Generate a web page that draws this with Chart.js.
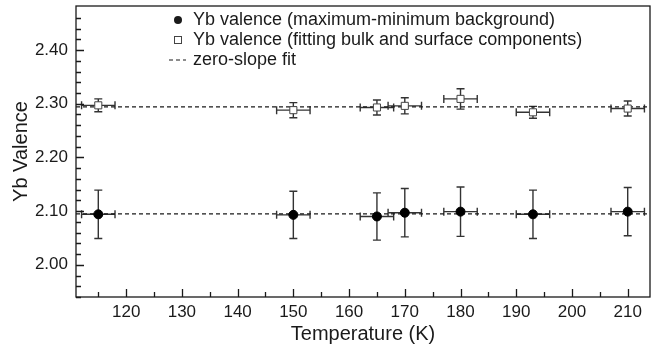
<!DOCTYPE html>
<html>
<head>
<meta charset="utf-8">
<script src="https://cdn.jsdelivr.net/npm/chart.js@4.4.1/dist/chart.umd.min.js"></script>
<style>
html, body { margin: 0; padding: 0; background: #fff; }
</style>
</head>
<body>
<canvas id="valenceChart" width="656" height="349"></canvas>
<script>
// Yb valence vs temperature
var temps = [115, 150, 165, 170, 180, 193, 210];
var tempErr = [3, 3, 3, 3, 3, 3, 3];
var valMaxMin = [2.094, 2.093, 2.090, 2.097, 2.099, 2.094, 2.099];
var errMaxMin = [0.045, 0.044, 0.044, 0.045, 0.046, 0.045, 0.045];
var valFit = [2.297, 2.288, 2.293, 2.296, 2.309, 2.284, 2.291];
var errFit = [0.012, 0.014, 0.014, 0.015, 0.019, 0.011, 0.014];
var fitLevels = [2.095, 2.294];
var xRange = [111, 214];
var yRange = [1.94, 2.482];
var legendLabels = ['Yb valence (maximum-minimum background)',
                    'Yb valence (fitting bulk and surface components)',
                    'zero-slope fit'];

var FONT = "'Liberation Sans', Arial, Helvetica, sans-serif";
var INK = '#1a1a1a';

function pts(ys) {
    return temps.map(function (t, i) { return { x: t, y: ys[i] }; });
}
function flat(level) {
    return [{ x: xRange[0], y: level }, { x: xRange[1], y: level }];
}

// error bars + inward ticks + frame + legend
var extras = {
    id: 'extras',
    beforeDatasetsDraw: function (chart) {
        var ctx = chart.ctx, xs = chart.scales.x, ys = chart.scales.y;
        ctx.save();
        ctx.strokeStyle = '#333';
        ctx.lineWidth = 1.4;
        [[valMaxMin, errMaxMin], [valFit, errFit]].forEach(function (s) {
            temps.forEach(function (t, i) {
                var px = xs.getPixelForValue(t), py = ys.getPixelForValue(s[0][i]);
                var x0 = xs.getPixelForValue(t - tempErr[i]), x1 = xs.getPixelForValue(t + tempErr[i]);
                var y0 = ys.getPixelForValue(s[0][i] - s[1][i]), y1 = ys.getPixelForValue(s[0][i] + s[1][i]);
                ctx.beginPath();
                ctx.moveTo(x0, py); ctx.lineTo(x1, py);
                ctx.moveTo(x0, py - 4); ctx.lineTo(x0, py + 4);
                ctx.moveTo(x1, py - 4); ctx.lineTo(x1, py + 4);
                ctx.moveTo(px, y0); ctx.lineTo(px, y1);
                ctx.moveTo(px - 4, y0); ctx.lineTo(px + 4, y0);
                ctx.moveTo(px - 4, y1); ctx.lineTo(px + 4, y1);
                ctx.stroke();
            });
        });
        ctx.restore();
    },
    afterDraw: function (chart) {
        var ctx = chart.ctx, a = chart.chartArea, xs = chart.scales.x, ys = chart.scales.y;
        ctx.save();
        ctx.strokeStyle = INK;
        ctx.lineWidth = 1.3;
        ctx.strokeRect(a.left, a.top, a.right - a.left, a.bottom - a.top);
        ctx.beginPath();
        for (var v = 1.94; v <= 2.48; v += 0.02) {
            var y = Math.round(ys.getPixelForValue(v)) + 0.5;
            var major = Math.abs(v * 10 - Math.round(v * 10)) < 1e-6;
            ctx.moveTo(a.left, y); ctx.lineTo(a.left + (major ? 8 : 5), y);
        }
        for (var t = 115; t <= 210; t += 5) {
            var x = Math.round(xs.getPixelForValue(t)) + 0.5;
            ctx.moveTo(x, a.bottom); ctx.lineTo(x, a.bottom - (t % 10 === 0 ? 8 : 5));
        }
        ctx.stroke();

        // legend
        var lx = 178, tx = 193, rows = [20, 40, 60];
        ctx.font = '18px ' + FONT;
        ctx.fillStyle = INK;
        ctx.textBaseline = 'middle';
        legendLabels.forEach(function (lab, i) {
            ctx.fillText(lab, tx, rows[i]);
        });
        ctx.beginPath();
        ctx.arc(lx, rows[0], 4, 0, Math.PI * 2);
        ctx.fill();
        ctx.strokeStyle = '#444';
        ctx.lineWidth = 1;
        ctx.strokeRect(lx - 3.5, rows[1] - 3.5, 7, 7);
        ctx.strokeStyle = INK;
        ctx.lineWidth = 1.2;
        ctx.setLineDash([4, 3]);
        ctx.beginPath();
        ctx.moveTo(lx - 9, rows[2]); ctx.lineTo(tx - 7, rows[2]);
        ctx.stroke();
        ctx.restore();
    }
};

var ctx = document.getElementById('valenceChart').getContext('2d');
var myChart = new Chart(ctx, {
    type: 'scatter',
    data: {
        datasets: [{
            label: legendLabels[2],
            type: 'line',
            data: flat(fitLevels[0]),
            borderColor: INK,
            borderWidth: 1.2,
            borderDash: [4, 3],
            pointRadius: 0,
            order: 3
        }, {
            label: legendLabels[2],
            type: 'line',
            data: flat(fitLevels[1]),
            borderColor: INK,
            borderWidth: 1.2,
            borderDash: [4, 3],
            pointRadius: 0,
            order: 3
        }, {
            label: legendLabels[0],
            data: pts(valMaxMin),
            pointStyle: 'circle',
            pointRadius: 4.5,
            backgroundColor: '#000',
            borderColor: '#000',
            borderWidth: 1,
            order: 1
        }, {
            label: legendLabels[1],
            data: pts(valFit),
            pointStyle: 'rect',
            pointRadius: 5,
            backgroundColor: '#fff',
            borderColor: '#444',
            borderWidth: 1,
            order: 1
        }]
    },
    options: {
        responsive: false,
        animation: false,
        layout: { padding: { top: 6, right: 4 } },
        plugins: {
            legend: { display: false },
            tooltip: { enabled: false }
        },
        scales: {
            x: {
                type: 'linear',
                min: xRange[0],
                max: xRange[1],
                grid: { display: false, drawTicks: false },
                border: { display: false },
                ticks: {
                    stepSize: 10,
                    includeBounds: false,
                    autoSkip: false,
                    maxRotation: 0,
                    padding: 5,
                    color: INK,
                    font: { family: FONT, size: 17 }
                },
                title: {
                    display: true,
                    text: 'Temperature (K)',
                    color: INK,
                    padding: { top: 0, bottom: 3 },
                    font: { family: FONT, size: 20 }
                },
                afterFit: function (s) {
                    s.height = 52;
                    s.paddingLeft = 0;
                    s.paddingRight = 0;
                }
            },
            y: {
                min: yRange[0],
                max: yRange[1],
                grid: { display: false, drawTicks: false },
                border: { display: false },
                ticks: {
                    stepSize: 0.1,
                    includeBounds: false,
                    autoSkip: false,
                    padding: 8,
                    color: INK,
                    font: { family: FONT, size: 17 },
                    callback: function (v) { return v.toFixed(2); }
                },
                title: {
                    display: true,
                    text: 'Yb Valence',
                    color: INK,
                    padding: { top: 9, bottom: 0 },
                    font: { family: FONT, size: 20 }
                },
                afterFit: function (s) {
                    s.width = 76;
                    s.paddingTop = 0;
                    s.paddingBottom = 0;
                }
            }
        }
    },
    plugins: [extras]
});
</script>
</body>
</html>
